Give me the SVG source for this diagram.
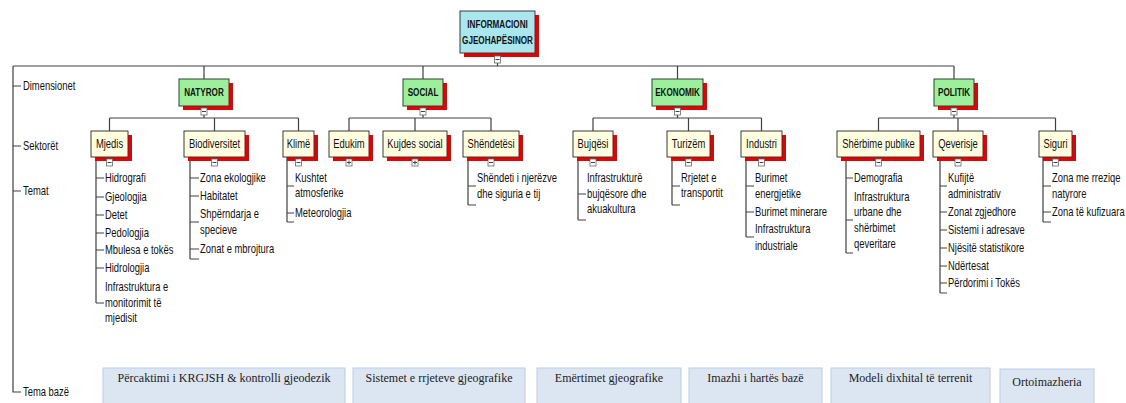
<svg xmlns="http://www.w3.org/2000/svg" width="1126" height="403" viewBox="0 0 1126 403">
<style>
.sh{fill:#e60000;stroke:none}
.root{fill:#aae6ee;stroke:#3a3a3a;stroke-width:1}
.dim{fill:#9cf09c;stroke:#3a3a3a;stroke-width:1}
.sec{fill:#fffde0;stroke:#3a3a3a;stroke-width:1}
.btn{fill:#fff;stroke:#666;stroke-width:0.8}
.bm{stroke:#444;stroke-width:1;fill:none}
.ln{stroke:#404040;stroke-width:1.2;fill:none}
.base{fill:#dce6f2;stroke:#b9cde5;stroke-width:1}
text{font-family:"Liberation Sans Narrow","Liberation Sans",Arial,sans-serif;fill:#111}
.t{font-size:12px;transform-box:fill-box;transform-origin:0 50%;transform:scaleX(0.785)}
.c{font-size:11px;font-weight:bold;text-anchor:middle;transform-box:fill-box;transform-origin:50% 50%;transform:scaleX(0.74)}
.s{font-size:12px;text-anchor:middle;transform-box:fill-box;transform-origin:50% 50%;transform:scaleX(0.785)}
.b{font-family:"Liberation Serif","Times New Roman",serif;font-size:12px;text-anchor:middle;fill:#222}
</style>
<defs>
<g id="minus"><rect class="btn" x="-3" y="0" width="6" height="7"/><path class="bm" d="M-2 3.5H2"/></g>
<g id="plus"><rect class="btn" x="-3" y="0" width="6" height="7"/><path class="bm" d="M-2 3.5H2M0 1.5V5.5"/></g>
</defs>

<g id="connectors">
<path class="ln" d="M13 66V392H21M13 86H21M13 146H21M13 191H21"/>
<path class="ln" d="M13 66H954M497.5 53V66M204 66V79M423 66V79M677.5 66V79M954 66V79"/>
<path class="ln" d="M204 106V118M109.5 118H298.5M109.5 118V131M214.5 118V131M298.5 118V131"/>
<path class="ln" d="M423 106V118M349 118H491M349 118V131M415 118V131M491 118V131"/>
<path class="ln" d="M677.5 106V118M593 118H761.5M593 118V131M688.5 118V131M761.5 118V131"/>
<path class="ln" d="M954 106V118M878.5 118H1055.5M878.5 118V131M958 118V131M1055.5 118V131"/>
<path class="ln" d="M96 157V303M96 178H104M96 197H104M96 215H104M96 233H104M96 250H104M96 268H104M96 303H104"/>
<path class="ln" d="M190 157V259M190 178H199M190 196H199M190 222H199M190 249H199M190 259H199"/>
<path class="ln" d="M287 157V222M287 186H294M287 213H294M287 222H294"/>
<path class="ln" d="M468 157V205M468 186H476M468 205H476"/>
<path class="ln" d="M578 157V220M578 194H586M578 220H586"/>
<path class="ln" d="M672 157V205M672 186H680M672 205H680"/>
<path class="ln" d="M746 157V237M746 186H754M746 212H754M746 237H754"/>
<path class="ln" d="M846 157V253M846 178H853M846 220H853M846 253H853"/>
<path class="ln" d="M940 157V293M940 186H947M940 212H947M940 230H947M940 248H947M940 266H947M940 283H947M940 293H947"/>
<path class="ln" d="M1043 157V222M1043 186H1051M1043 212H1051M1043 222H1051"/>
</g>

<g id="axis-labels">
<text class="t" x="23" y="90">Dimensionet</text>
<text class="t" x="23" y="150">Sektorët</text>
<text class="t" x="23" y="195">Temat</text>
<text class="t" x="23" y="396">Tema bazë</text>
</g>

<g id="root">
<rect class="sh" x="464" y="15" width="75" height="42"/>
<rect class="root" x="460" y="11" width="75" height="42"/>
<text class="c" x="497.5" y="28">INFORMACIONI</text>
<text class="c" x="497.5" y="44">GJEOHAPËSINOR</text>
<use href="#minus" x="497.5" y="56"/>
</g>

<g id="natyror">
<rect class="sh" x="183" y="83" width="50" height="27"/>
<rect class="dim" x="179" y="79" width="50" height="27"/>
<text class="c" x="204" y="96">NATYROR</text>
<use href="#minus" x="204" y="108"/>
</g>
<g id="social">
<rect class="sh" x="407" y="83" width="40" height="27"/>
<rect class="dim" x="403" y="79" width="40" height="27"/>
<text class="c" x="423" y="96">SOCIAL</text>
<use href="#minus" x="423" y="108"/>
</g>
<g id="ekonomik">
<rect class="sh" x="656" y="83" width="51" height="27"/>
<rect class="dim" x="652" y="79" width="51" height="27"/>
<text class="c" x="677.5" y="96">EKONOMIK</text>
<use href="#minus" x="677.5" y="108"/>
</g>
<g id="politik">
<rect class="sh" x="938" y="83" width="40" height="27"/>
<rect class="dim" x="934" y="79" width="40" height="27"/>
<text class="c" x="954" y="96">POLITIK</text>
<use href="#minus" x="954" y="108"/>
</g>

<g id="mjedis">
<rect class="sh" x="95" y="135" width="37" height="26"/>
<rect class="sec" x="91" y="131" width="37" height="26"/>
<text class="s" x="109.5" y="148">Mjedis</text>
<use href="#minus" x="109.5" y="159"/>
<text class="t" x="105" y="182">Hidrografi</text>
<text class="t" x="105" y="201">Gjeologjia</text>
<text class="t" x="105" y="219">Detet</text>
<text class="t" x="105" y="237">Pedologjia</text>
<text class="t" x="105" y="254">Mbulesa e tokës</text>
<text class="t" x="105" y="272">Hidrologjia</text>
<text class="t" x="105" y="291">Infrastruktura e</text>
<text class="t" x="105" y="307">monitorimit të</text>
<text class="t" x="105" y="322">mjedisit</text>
</g>
<g id="biodiversitet">
<rect class="sh" x="188" y="135" width="61" height="26"/>
<rect class="sec" x="184" y="131" width="61" height="26"/>
<text class="s" x="214.5" y="148">Biodiversitet</text>
<use href="#minus" x="214.5" y="159"/>
<text class="t" x="200" y="182">Zona ekologjike</text>
<text class="t" x="200" y="200">Habitatet</text>
<text class="t" x="200" y="218">Shpërndarja e</text>
<text class="t" x="200" y="234">specieve</text>
<text class="t" x="200" y="253">Zonat e mbrojtura</text>
</g>
<g id="klime">
<rect class="sh" x="287" y="135" width="31" height="26"/>
<rect class="sec" x="283" y="131" width="31" height="26"/>
<text class="s" x="298.5" y="148">Klimë</text>
<use href="#minus" x="298.5" y="159"/>
<text class="t" x="295" y="182">Kushtet</text>
<text class="t" x="295" y="197">atmosferike</text>
<text class="t" x="295" y="217">Meteorologjia</text>
</g>
<g id="edukim">
<rect class="sh" x="333" y="135" width="40" height="26"/>
<rect class="sec" x="329" y="131" width="40" height="26"/>
<text class="s" x="349" y="148">Edukim</text>
<use href="#plus" x="349" y="159"/>
</g>
<g id="kujdes-social">
<rect class="sh" x="387" y="135" width="64" height="26"/>
<rect class="sec" x="383" y="131" width="64" height="26"/>
<text class="s" x="415" y="148">Kujdes social</text>
<use href="#plus" x="415" y="159"/>
</g>
<g id="shendetesi">
<rect class="sh" x="467" y="135" width="56" height="26"/>
<rect class="sec" x="463" y="131" width="56" height="26"/>
<text class="s" x="491" y="148">Shëndetësi</text>
<use href="#minus" x="491" y="159"/>
<text class="t" x="477" y="182">Shëndeti i njerëzve</text>
<text class="t" x="477" y="198">dhe siguria e tij</text>
</g>
<g id="bujqesi">
<rect class="sh" x="577" y="135" width="40" height="26"/>
<rect class="sec" x="573" y="131" width="40" height="26"/>
<text class="s" x="593" y="148">Bujqësi</text>
<use href="#minus" x="593" y="159"/>
<text class="t" x="587" y="182">Infrastrukturë</text>
<text class="t" x="587" y="198">bujqësore dhe</text>
<text class="t" x="587" y="213">akuakultura</text>
</g>
<g id="turizem">
<rect class="sh" x="671" y="135" width="43" height="26"/>
<rect class="sec" x="667" y="131" width="43" height="26"/>
<text class="s" x="688.5" y="148">Turizëm</text>
<use href="#minus" x="688.5" y="159"/>
<text class="t" x="681" y="182">Rrjetet e</text>
<text class="t" x="681" y="197">transportit</text>
</g>
<g id="industri">
<rect class="sh" x="745" y="135" width="41" height="26"/>
<rect class="sec" x="741" y="131" width="41" height="26"/>
<text class="s" x="761.5" y="148">Industri</text>
<use href="#minus" x="761.5" y="159"/>
<text class="t" x="755" y="182">Burimet</text>
<text class="t" x="755" y="198">energjetike</text>
<text class="t" x="755" y="216">Burimet minerare</text>
<text class="t" x="755" y="233">Infrastruktura</text>
<text class="t" x="755" y="250">industriale</text>
</g>
<g id="sherbime-publike">
<rect class="sh" x="841" y="135" width="83" height="26"/>
<rect class="sec" x="837" y="131" width="83" height="26"/>
<text class="s" x="878.5" y="148">Shërbime publike</text>
<use href="#minus" x="878.5" y="159"/>
<text class="t" x="854" y="182">Demografia</text>
<text class="t" x="854" y="201">Infrastruktura</text>
<text class="t" x="854" y="216">urbane dhe</text>
<text class="t" x="854" y="232">shërbimet</text>
<text class="t" x="854" y="248">qeveritare</text>
</g>
<g id="qeverisje">
<rect class="sh" x="937" y="135" width="50" height="26"/>
<rect class="sec" x="933" y="131" width="50" height="26"/>
<text class="s" x="958" y="148">Qeverisje</text>
<use href="#minus" x="958" y="159"/>
<text class="t" x="948" y="182">Kufijtë</text>
<text class="t" x="948" y="198">administrativ</text>
<text class="t" x="948" y="216">Zonat zgjedhore</text>
<text class="t" x="948" y="234">Sistemi i adresave</text>
<text class="t" x="948" y="252">Njësitë statistikore</text>
<text class="t" x="948" y="270">Ndërtesat</text>
<text class="t" x="948" y="287">Përdorimi i Tokës</text>
</g>
<g id="siguri">
<rect class="sh" x="1043" y="135" width="33" height="26"/>
<rect class="sec" x="1039" y="131" width="33" height="26"/>
<text class="s" x="1055.5" y="148">Siguri</text>
<use href="#minus" x="1055.5" y="159"/>
<text class="t" x="1052" y="182">Zona me rreziqe</text>
<text class="t" x="1052" y="198">natyrore</text>
<text class="t" x="1052" y="216">Zona të kufizuara</text>
</g>

<g id="tema-baze">
<g id="base-1"><rect class="base" x="103" y="368" width="242" height="45"/><text class="b" x="224" y="382">Përcaktimi i KRGJSH &amp; kontrolli gjeodezik</text></g>
<g id="base-2"><rect class="base" x="353" y="368" width="172" height="45"/><text class="b" x="439" y="382">Sistemet e rrjeteve gjeografike</text></g>
<g id="base-3"><rect class="base" x="537" y="368" width="144" height="45"/><text class="b" x="609" y="382">Emërtimet gjeografike</text></g>
<g id="base-4"><rect class="base" x="689" y="368" width="133" height="45"/><text class="b" x="755.5" y="382">Imazhi i hartës bazë</text></g>
<g id="base-5"><rect class="base" x="831" y="368" width="159" height="45"/><text class="b" x="910.5" y="382">Modeli dixhital të terrenit</text></g>
<g id="base-6"><rect class="base" x="1000" y="369" width="94" height="45"/><text class="b" x="1047" y="386">Ortoimazheria</text></g>
</g>
</svg>
